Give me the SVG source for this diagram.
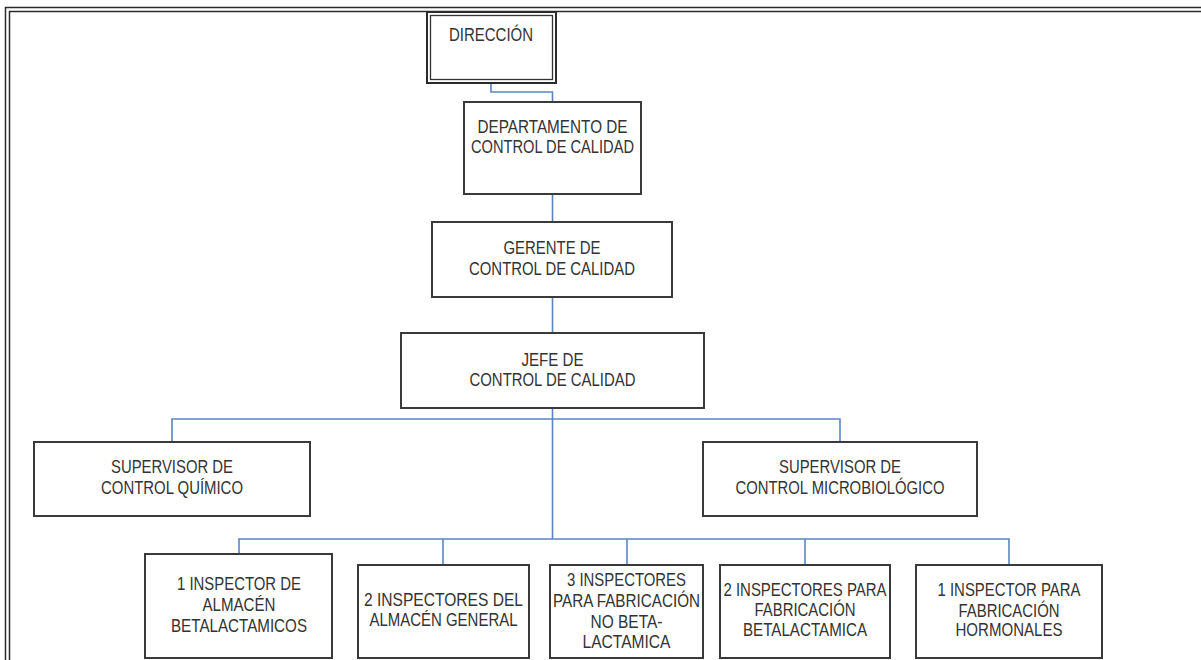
<svg xmlns="http://www.w3.org/2000/svg" width="1201" height="660" viewBox="0 0 1201 660">
<style>
.bg{fill:#ffffff}
.frame{stroke:#2b2b2b;stroke-width:1.5;fill:none}
.box{fill:#ffffff;stroke:#3a3a3a;stroke-width:2}
.dbl{fill:none;stroke:#333333;stroke-width:1.3}
.conn{fill:none;stroke:#5a86c0;stroke-width:1.6}
text{font-family:"Liberation Sans Narrow","Liberation Sans",Arial,sans-serif;font-size:18px;fill:#333333;text-anchor:middle}
</style>
<rect class="bg" x="0" y="0" width="1201" height="660"/>
<g id="frame">
<path class="frame" d="M5.5 660 V7.5 H1201"/>
<path class="frame" d="M9.5 660 V11.5 H1201"/>
</g>
<g id="connectors">
<path class="conn" d="M491 83 V92 H552.5 V102"/>
<path class="conn" d="M552.5 194 V222"/>
<path class="conn" d="M552.5 297 V333"/>
<path class="conn" d="M552.5 408 V539"/>
<path class="conn" d="M172 442 V419 H840 V442"/>
<path class="conn" d="M239 554 V539 H1009 V565"/>
<path class="conn" d="M443 539 V565"/>
<path class="conn" d="M627 539 V565"/>
<path class="conn" d="M805 539 V565"/>
</g>
<g id="direccion">
<rect x="427" y="12" width="129" height="71" fill="#ffffff" stroke="#2b2b2b" stroke-width="2"/>
<rect class="dbl" x="430.5" y="15.5" width="122" height="64"/>
<text x="491" y="41" textLength="84" lengthAdjust="spacingAndGlyphs">DIRECCIÓN</text>
</g>
<g id="departamento">
<rect class="box" x="464" y="102" width="177" height="92"/>
<text x="552.5" y="133" textLength="150" lengthAdjust="spacingAndGlyphs">DEPARTAMENTO DE</text>
<text x="552.5" y="153" textLength="163" lengthAdjust="spacingAndGlyphs">CONTROL DE CALIDAD</text>
</g>
<g id="gerente">
<rect class="box" x="432" y="222" width="240" height="75"/>
<text x="552" y="254" textLength="97" lengthAdjust="spacingAndGlyphs">GERENTE DE</text>
<text x="552" y="275" textLength="166" lengthAdjust="spacingAndGlyphs">CONTROL DE CALIDAD</text>
</g>
<g id="jefe">
<rect class="box" x="401" y="333" width="303" height="75"/>
<text x="552.5" y="366" textLength="62" lengthAdjust="spacingAndGlyphs">JEFE DE</text>
<text x="552.5" y="386" textLength="166" lengthAdjust="spacingAndGlyphs">CONTROL DE CALIDAD</text>
</g>
<g id="sup-quimico">
<rect class="box" x="34" y="442" width="276" height="74"/>
<text x="172" y="473" textLength="122" lengthAdjust="spacingAndGlyphs">SUPERVISOR DE</text>
<text x="172" y="494" textLength="142" lengthAdjust="spacingAndGlyphs">CONTROL QUÍMICO</text>
</g>
<g id="sup-micro">
<rect class="box" x="703" y="442" width="274" height="74"/>
<text x="840" y="473" textLength="122" lengthAdjust="spacingAndGlyphs">SUPERVISOR DE</text>
<text x="840" y="494" textLength="209" lengthAdjust="spacingAndGlyphs">CONTROL MICROBIOLÓGICO</text>
</g>
<g id="insp-almacen-beta">
<rect class="box" x="145" y="554" width="187" height="104"/>
<text x="239" y="590" textLength="124" lengthAdjust="spacingAndGlyphs">1 INSPECTOR DE</text>
<text x="239" y="611" textLength="73" lengthAdjust="spacingAndGlyphs">ALMACÉN</text>
<text x="239" y="632" textLength="136" lengthAdjust="spacingAndGlyphs">BETALACTAMICOS</text>
</g>
<g id="insp-almacen-general">
<rect class="box" x="358" y="565" width="171" height="93"/>
<text x="443.5" y="606" textLength="159" lengthAdjust="spacingAndGlyphs">2 INSPECTORES DEL</text>
<text x="443.5" y="626" textLength="148" lengthAdjust="spacingAndGlyphs">ALMACÉN GENERAL</text>
</g>
<g id="insp-no-beta">
<rect class="box" x="550" y="565" width="153" height="93"/>
<text x="626.5" y="586" textLength="119" lengthAdjust="spacingAndGlyphs">3 INSPECTORES</text>
<text x="626.5" y="607" textLength="147" lengthAdjust="spacingAndGlyphs">PARA FABRICACIÓN</text>
<text x="626.5" y="628" textLength="72" lengthAdjust="spacingAndGlyphs">NO BETA-</text>
<text x="626.5" y="648" textLength="88" lengthAdjust="spacingAndGlyphs">LACTAMICA</text>
</g>
<g id="insp-fab-beta">
<rect class="box" x="720" y="565" width="170" height="93"/>
<text x="805" y="596" textLength="163" lengthAdjust="spacingAndGlyphs">2 INSPECTORES PARA</text>
<text x="805" y="616" textLength="101" lengthAdjust="spacingAndGlyphs">FABRICACIÓN</text>
<text x="805" y="636" textLength="124" lengthAdjust="spacingAndGlyphs">BETALACTAMICA</text>
</g>
<g id="insp-hormonales">
<rect class="box" x="916" y="565" width="186" height="93"/>
<text x="1009" y="596" textLength="143" lengthAdjust="spacingAndGlyphs">1 INSPECTOR PARA</text>
<text x="1009" y="617" textLength="101" lengthAdjust="spacingAndGlyphs">FABRICACIÓN</text>
<text x="1009" y="636" textLength="107" lengthAdjust="spacingAndGlyphs">HORMONALES</text>
</g>
</svg>
